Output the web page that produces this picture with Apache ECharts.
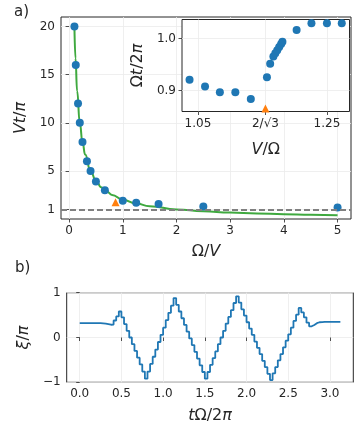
<!DOCTYPE html>
<html>
<head>
<meta charset="utf-8">
<script src="https://cdn.jsdelivr.net/npm/echarts@6/dist/echarts.min.js"></script>
<style>
  html, body { margin: 0; padding: 0; background: #fff; }
  #chart { width: 357px; height: 426px; }
</style>
</head>
<body>
<div id="chart"></div>
<script>
// ============================
// Datos panel a) principal
// ============================
var mainPtsX = [0.1, 0.125, 0.167, 0.2, 0.25, 0.333, 0.4, 0.5, 0.667, 1.0, 1.25, 1.667, 2.5, 5.0];
var mainPtsY = [20, 16, 12, 10, 8, 6, 5, 3.9, 3.0, 1.9, 1.7, 1.55, 1.3, 1.2];
var curveX = [0.1, 0.12, 0.15, 0.2, 0.25, 0.3, 0.4, 0.5, 0.6, 0.7, 0.8, 1.0, 1.25, 1.5, 2.0, 2.5, 3.0, 3.5, 4.0, 4.5, 5.0];
var curveY = [20, 16.7, 13.3, 10, 8, 6.7, 5, 4, 3.3, 2.86, 2.5, 2, 1.6, 1.33, 1, 0.8, 0.67, 0.57, 0.5, 0.44, 0.4];
var mainMarker = [0.866, 1.75];
var refLevel = 1;
var mainTicksX = [0, 1, 2, 3, 4, 5];
var mainTicksY = [1, 5, 10, 15, 20];

// ============================
// Datos del inset
// ============================
var insetX = [1.037, 1.061, 1.084, 1.108, 1.132, 1.157, 1.162, 1.167, 1.170, 1.173, 1.176, 1.179, 1.181, 1.203, 1.226, 1.25, 1.273];
var insetY = [0.921, 0.908, 0.897, 0.897, 0.884, 0.926, 0.952, 0.966, 0.972, 0.978, 0.984, 0.990, 0.994, 1.017, 1.030, 1.030, 1.030];
var insetMarker = [1.1547, 0.866];
var insetTicksX = [1.05, 1.1547, 1.25];
var insetTicksY = [0.9, 1.0];

// ============================
// Datos panel b)
// ============================
var xiTimes = [0, 0.0313, 0.0625, 0.0938, 0.125, 0.1563, 0.1875, 0.2188, 0.25, 0.2813, 0.3125, 0.3438, 0.375, 0.4063, 0.4375, 0.4688,
  0.5, 0.5313, 0.5625, 0.5938, 0.625, 0.6563, 0.6875, 0.7188, 0.75, 0.7813, 0.8125, 0.8438, 0.875, 0.9063, 0.9375, 0.9688,
  1, 1.0313, 1.0625, 1.0938, 1.125, 1.1563, 1.1875, 1.2188, 1.25, 1.2813, 1.3125, 1.3438, 1.375, 1.4063, 1.4375, 1.4688,
  1.5, 1.5313, 1.5625, 1.5938, 1.625, 1.6563, 1.6875, 1.7188, 1.75, 1.7813, 1.8125, 1.8438, 1.875, 1.9063, 1.9375, 1.9688,
  2, 2.0313, 2.0625, 2.0938, 2.125, 2.1563, 2.1875, 2.2188, 2.25, 2.2813, 2.3125, 2.3438, 2.375, 2.4063, 2.4375, 2.4688,
  2.5, 2.5313, 2.5625, 2.5938, 2.625, 2.6563, 2.6875, 2.7188, 2.75, 2.7813, 2.8125, 2.8438, 2.875, 2.9063, 2.9375, 2.9688,
  3, 3.0313, 3.0625, 3.0938, 3.125];
var xiValues = [0.32, 0.32, 0.32, 0.32, 0.32, 0.32, 0.32, 0.32,
  0.315, 0.31, 0.30, 0.285, 0.29,
  0.38, 0.47, 0.58,
  0.45, 0.30, 0.15, 0.00, -0.15, -0.30, -0.45, -0.60, -0.76, -0.92,
  -0.76, -0.59, -0.43, -0.27, -0.10, 0.06, 0.22, 0.39, 0.55, 0.71, 0.88,
  0.73, 0.58, 0.43, 0.28, 0.13, -0.02, -0.17, -0.32, -0.47, -0.62, -0.77, -0.92,
  -0.77, -0.61, -0.46, -0.31, -0.15, 0.00, 0.15, 0.31, 0.46, 0.61, 0.77, 0.92,
  0.78, 0.63, 0.49, 0.34, 0.20, 0.06, -0.09, -0.23, -0.37, -0.52, -0.66, -0.81, -0.95,
  -0.80, -0.66, -0.51, -0.37, -0.22, -0.07, 0.07, 0.22, 0.37, 0.51, 0.66,
  0.56, 0.45, 0.33, 0.25, 0.28, 0.32, 0.34, 0.345,
  0.35, 0.35, 0.35, 0.35, 0.35, 0.35, 0.35, 0.35];
var bTicksX = [0, 0.5, 1, 1.5, 2, 2.5, 3];
var bTicksY = [-1, 0, 1];

// ============================
// Estilos comunes
// ============================
var FONT = "DejaVu Sans";
var INK = "#262626";
var BLUE = "#1f77b4";

function zip(xs, ys) {
    return xs.map((x, i) => [x, ys[i]]);
}

// nombres tipo mathtext: cursiva para variables, recta para Ω y números
var nameRich = {
    i: { fontStyle: "italic", fontSize: 16, fontFamily: FONT, color: INK },
    n: { fontStyle: "normal", fontSize: 16, fontFamily: FONT, color: INK }
};

function ticks(values) {
    return { show: true, length: 3.5, customValues: values, lineStyle: { color: INK, width: 0.8 } };
}

function labels(values, formatter) {
    var l = { color: INK, fontSize: 12, fontFamily: FONT, margin: 6, customValues: values };
    if (formatter) l.formatter = formatter;
    return l;
}

function axisBase(extra) {
    var base = {
        type: "value",
        axisLine: { show: false },
        splitLine: { show: true, lineStyle: { color: "#ebebeb", width: 0.8 } },
        nameLocation: "middle",
        nameTextStyle: { rich: nameRich }
    };
    return Object.assign(base, extra);
}

var chart = echarts.init(document.getElementById("chart"), null, { renderer: "canvas" });

chart.setOption({
    animation: false,
    backgroundColor: "#fff",
    graphic: [
        { type: "text", left: 14, top: 5, style: { text: "a)", fontSize: 15, fontFamily: FONT, fill: INK } },
        { type: "text", left: 15, top: 261, style: { text: "b)", fontSize: 15, fontFamily: FONT, fill: INK } }
    ],
    grid: [
        { left: 61, right: 6, top: 17, bottom: 207, show: true, borderColor: INK, borderWidth: 1, backgroundColor: "transparent" },
        { left: 182, right: 7.5, top: 19.5, bottom: 314.5, show: true, borderColor: INK, borderWidth: 1, backgroundColor: "#fff", z: 5 },
        { left: 66.7, right: 3.7, top: 292.7, bottom: 43.7, show: true, borderColor: INK, borderWidth: 1, backgroundColor: "transparent" }
    ],
    xAxis: [
        axisBase({
            gridIndex: 0, min: -0.15, max: 5.25,
            name: "{n|Ω/}{i|V}", nameGap: 25,
            axisTick: ticks(mainTicksX),
            axisLabel: labels(mainTicksX)
        }),
        axisBase({
            gridIndex: 1, min: 1.0253, max: 1.285, z: 6,
            name: "{i|V}{n|/Ω}", nameGap: 30,
            axisTick: ticks(insetTicksX),
            axisLabel: labels(insetTicksX, v => (Math.abs(v - 1.1547) < 1e-3 ? "2/√3" : v.toFixed(2)))
        }),
        axisBase({
            gridIndex: 2, min: -0.156, max: 3.28,
            name: "{i|t}{n|Ω/2}{i|π}", nameGap: 26,
            axisTick: ticks(bTicksX),
            axisLabel: labels(bTicksX, v => v.toFixed(1))
        })
    ],
    yAxis: [
        axisBase({
            gridIndex: 0, min: 0, max: 21,
            name: "{i|Vt}{n|/}{i|π}", nameGap: 32,
            axisTick: ticks(mainTicksY),
            axisLabel: labels(mainTicksY)
        }),
        axisBase({
            gridIndex: 1, min: 0.86, max: 1.037, z: 6,
            name: "{n|Ω}{i|t}{n|/2}{i|π}", nameGap: 36,
            axisTick: ticks(insetTicksY),
            axisLabel: labels(insetTicksY, v => v.toFixed(1))
        }),
        axisBase({
            gridIndex: 2, min: -1, max: 1,
            name: "{i|ξ}{n|/}{i|π}", nameGap: 34,
            axisTick: ticks(bTicksY),
            axisLabel: labels(bTicksY, v => String(v).replace("-", "\u2212"))
        })
    ],
    series: [
        {
            type: "line", xAxisIndex: 0, yAxisIndex: 0, z: 2,
            data: zip(curveX, curveY), smooth: true, smoothMonotone: "x",
            showSymbol: false, lineStyle: { color: "#3fa93f", width: 2 },
            markLine: {
                silent: true, symbol: "none", label: { show: false },
                lineStyle: { color: "#808080", type: [6, 3], width: 2 },
                data: [{ yAxis: refLevel }]
            }
        },
        {
            type: "scatter", xAxisIndex: 0, yAxisIndex: 0, z: 4,
            data: zip(mainPtsX, mainPtsY), symbolSize: 8, itemStyle: { color: BLUE, opacity: 1 }
        },
        {
            type: "scatter", xAxisIndex: 0, yAxisIndex: 0, z: 4,
            data: [mainMarker], symbol: "triangle", symbolSize: 8, itemStyle: { color: "#ff7f0e", opacity: 1 }
        },
        {
            type: "scatter", xAxisIndex: 1, yAxisIndex: 1, z: 8,
            data: zip(insetX, insetY), symbolSize: 8, itemStyle: { color: BLUE, opacity: 1 }
        },
        {
            type: "scatter", xAxisIndex: 1, yAxisIndex: 1, z: 8,
            data: [insetMarker], symbol: "triangle", symbolSize: 8, itemStyle: { color: "#ff7f0e", opacity: 1 }
        },
        {
            type: "line", xAxisIndex: 2, yAxisIndex: 2, z: 3,
            data: zip(xiTimes, xiValues), step: "end", showSymbol: false,
            lineStyle: { color: BLUE, width: 1.8 }
        }
    ]
});
</script>
</body>
</html>
